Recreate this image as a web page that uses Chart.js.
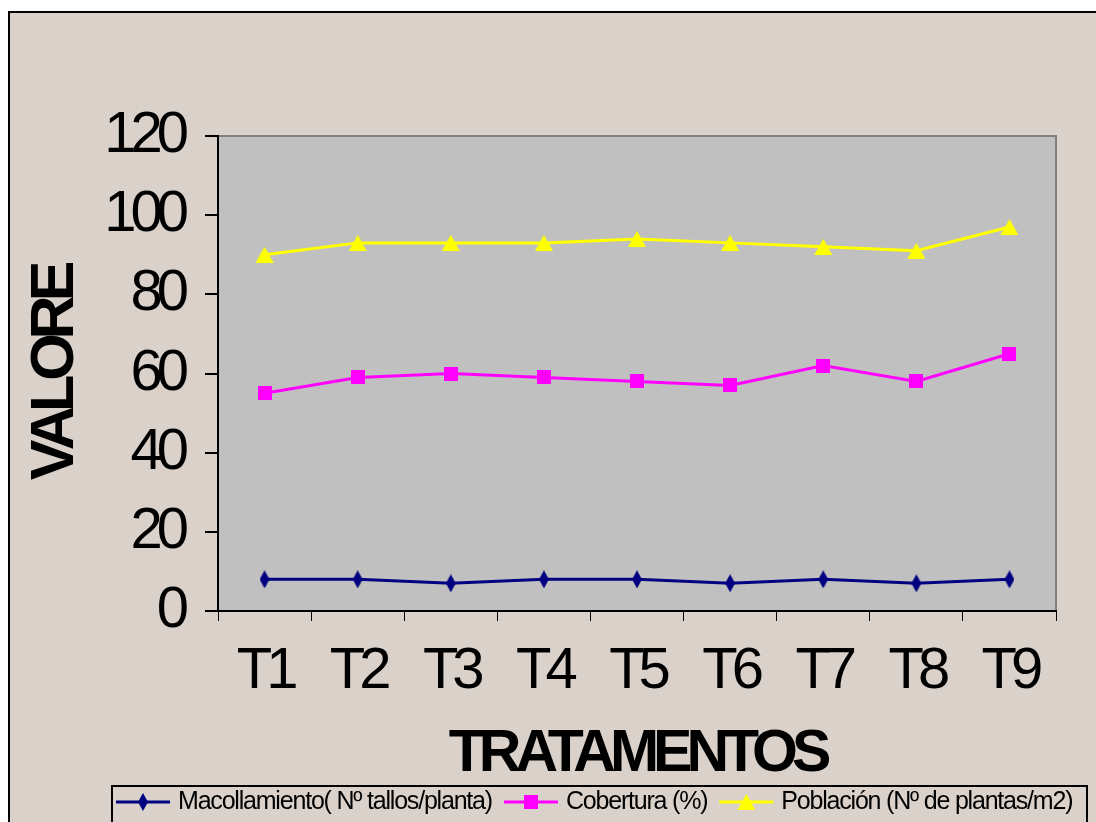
<!DOCTYPE html>
<html>
<head>
<meta charset="utf-8">
<script src="https://cdn.jsdelivr.net/npm/chart.js@4/dist/chart.umd.min.js"></script>
<style>
  html, body { margin: 0; background: #fff; overflow: hidden; }
  #box { position: absolute; left: 8px; top: 11px; width: 1100px; height: 830px;
         border: 2px solid #000; background: #d9d1ca; }
  canvas { display: block; }
</style>
</head>
<body>
<div id="box"><canvas id="chart" width="1090" height="815" style="width:1090px;height:815px"></canvas></div>
<script>
const categories = ["T1", "T2", "T3", "T4", "T5", "T6", "T7", "T8", "T9"];
const macollamiento = [8, 8, 7, 8, 8, 7, 8, 7, 8];
const cobertura = [55, 59, 60, 59, 58, 57, 62, 58, 65];
const poblacion = [90, 93, 93, 93, 94, 93, 92, 91, 97];
const seriesNames = ["Macollamiento( Nº tallos/planta)", "Cobertura (%)", "Población (Nº de plantas/m2)"];

const FONT = "'Liberation Sans', Arial, sans-serif";

// marker images (set size first, it resets the context)
function marker(shape, color) {
    const c = document.createElement('canvas');
    if (shape == 'diamond') { c.width = 10; c.height = 18; }
    else if (shape == 'square') { c.width = 14; c.height = 14; }
    else { c.width = 18; c.height = 16; }
    const g = c.getContext('2d');
    g.fillStyle = color;
    g.beginPath();
    if (shape == 'diamond') {
        g.moveTo(5, 0); g.lineTo(10, 9); g.lineTo(5, 18); g.lineTo(0, 9);
    } else if (shape == 'square') {
        g.rect(0, 0, 14, 14);
    } else {
        g.moveTo(9, 0); g.lineTo(18, 16); g.lineTo(0, 16);
    }
    g.closePath();
    g.fill();
    return c;
}

const navy = "#000080", magenta = "#ff00ff", yellow = "#ffff00";
const markers = [marker('diamond', navy), marker('square', magenta), marker('triangle', yellow)];

const plotBg = {
    id: 'plotBg',
    beforeDraw(chart) {
        const {ctx, chartArea: a} = chart;
        ctx.save();
        ctx.fillStyle = "#c0c0c0";
        ctx.fillRect(a.left, a.top, a.right - a.left, a.bottom - a.top);
        ctx.strokeStyle = "#808080";
        ctx.lineWidth = 2;
        ctx.beginPath();
        ctx.moveTo(a.left, a.top); ctx.lineTo(a.right, a.top); ctx.lineTo(a.right, a.bottom);
        ctx.stroke();
        ctx.restore();
        // the original uses a condensed face, squeeze the axis text a bit
        ctx.letterSpacing = "-6px";
    },
    beforeDatasetsDraw(chart) {
        chart.ctx.letterSpacing = "0px";
    }
};

// legend drawn in a box like the original
const boxLegend = {
    id: 'boxLegend',
    afterDraw(chart) {
        const ctx = chart.ctx;
        const top = 773, cy = 789;
        ctx.save();
        ctx.strokeStyle = "#000";
        ctx.lineWidth = 2;
        ctx.strokeRect(102, top, 975, 44);
        ctx.font = "25px " + FONT;
        ctx.letterSpacing = "-1.2px";
        ctx.textBaseline = "middle";
        ctx.fillStyle = "#000";
        let x = 106;
        chart.data.datasets.forEach((ds, i) => {
            ctx.strokeStyle = ds.borderColor;
            ctx.lineWidth = 3;
            ctx.beginPath();
            ctx.moveTo(x, cy); ctx.lineTo(x + 54, cy);
            ctx.stroke();
            const m = markers[i];
            ctx.drawImage(m, x + 27 - m.width / 2, cy - m.height / 2);
            x += 62;
            ctx.fillText(ds.label, x, cy);
            x += ctx.measureText(ds.label).width + 12;
        });
        ctx.restore();
    }
};

const ctx = document.getElementById('chart').getContext('2d');
new Chart(ctx, {
    type: 'line',
    data: {
        labels: categories,
        datasets: [
            { label: seriesNames[0], data: macollamiento, borderColor: navy, backgroundColor: navy,
              pointStyle: markers[0], borderWidth: 3, pointRadius: 8 },
            { label: seriesNames[1], data: cobertura, borderColor: magenta, backgroundColor: magenta,
              pointStyle: markers[1], borderWidth: 3, pointRadius: 8 },
            { label: seriesNames[2], data: poblacion, borderColor: yellow, backgroundColor: yellow,
              pointStyle: markers[2], borderWidth: 3, pointRadius: 8 }
        ]
    },
    options: {
        responsive: false,
        animation: false,
        layout: { padding: { top: 123, right: 44, bottom: 44, left: 0 } },
        plugins: {
            legend: { display: false },
            tooltip: { enabled: false }
        },
        scales: {
            x: {
                offset: true,
                grid: { display: true, drawOnChartArea: false, drawTicks: true, tickLength: 10,
                        offset: true, color: "#000", lineWidth: 1 },
                border: { color: "#000", width: 2 },
                ticks: { color: "#000", font: { family: FONT, size: 58 }, padding: 16 },
                title: { display: true, text: "TRATAMENTOS", color: "#000",
                         font: { family: FONT, size: 59, weight: 'bold', lineHeight: 1 },
                         padding: { top: 0, bottom: 0 } },
                afterFit(scale) { scale.height = 173; }
            },
            y: {
                min: 0, max: 120,
                grid: { display: true, drawOnChartArea: false, drawTicks: true, tickLength: 13,
                        color: "#000", lineWidth: 2 },
                border: { color: "#000", width: 2 },
                ticks: { stepSize: 20, color: "#000", font: { family: FONT, size: 58 }, padding: 22 },
                title: { display: true, text: "VALORE", color: "#000",
                         font: { family: FONT, size: 61, weight: 'bold', lineHeight: 1 },
                         padding: { top: 16, bottom: 0 } },
                afterFit(scale) { scale.width = 208; }
            }
        }
    },
    plugins: [plotBg, boxLegend]
});
</script>
</body>
</html>
